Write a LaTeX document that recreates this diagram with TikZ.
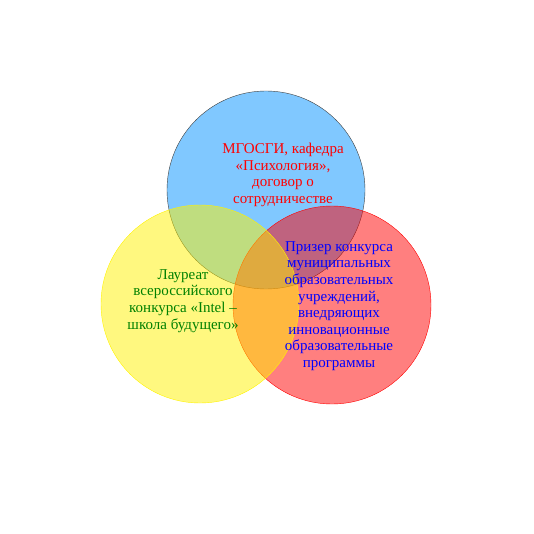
\documentclass[tikz,border=0pt]{standalone}
\usepackage{fontspec}
\setmainfont{Liberation Serif}
\usetikzlibrary{positioning}

\begin{document}
\begin{tikzpicture}[x=1pt,y=-1pt,
  circ/.style={circle,inner sep=0pt,minimum size=198pt},
  lbl/.style={align=center,inner sep=0pt,font=\fontsize{15}{16.6}\selectfont}]
\useasboundingbox (0,0) rectangle (534,534);
\node[circ,draw=black!75,fill={rgb,255:red,128;green,200;blue,255}] (c0) at (266,190) {};
\node[circ,draw=red,fill=red,fill opacity=.5] (c1) at (332,305) {};
\node[circ,draw=yellow,fill=yellow,fill opacity=.5] (c2) at (200,304) {};
\node[lbl,text=red] (t0) at (283,175) {МГОСГИ, кафедра\\«Психология»,\\договор о\\сотрудничестве};
\node[lbl,text={rgb,255:red,0;green,128;blue,0}] (t2) at (183,301) {Лауреат\\всероссийского\\конкурса «Intel –\\школа будущего»};
\node[lbl,text=blue] (t1) at (339,306) {Призер конкурса\\муниципальных\\образовательных\\учреждений,\\внедряющих\\инновационные\\образовательные\\программы};
\end{tikzpicture}
\end{document}
